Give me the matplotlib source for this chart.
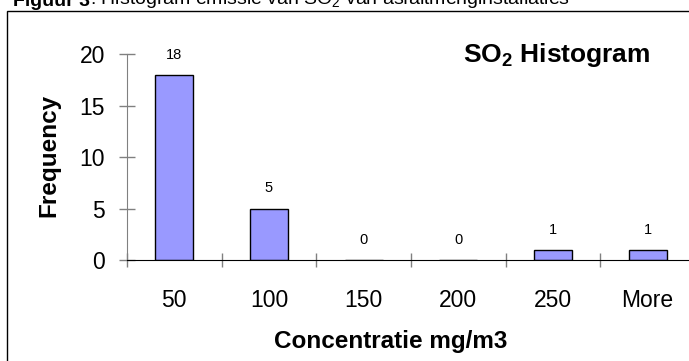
import matplotlib
matplotlib.use('Agg')
import matplotlib.pyplot as plt
from matplotlib.patches import Rectangle

# ============================================
# Data
# ============================================

bins = ['50', '100', '150', '200', '250', 'More']
frequency = [18, 5, 0, 0, 1, 1]
y_ticks = [0, 5, 10, 15, 20]

plt.rcParams['font.family'] = ['Liberation Sans', 'DejaVu Sans']
plt.rcParams['mathtext.fontset'] = 'custom'
plt.rcParams['mathtext.rm'] = 'Liberation Sans'
plt.rcParams['mathtext.bf'] = 'Liberation Sans:bold'
plt.rcParams['mathtext.default'] = 'rm'

W, H = 689, 361
fig = plt.figure(figsize=(W / 100, H / 100), dpi=100)

# plot area (pixel positions)
ax = fig.add_axes([127 / W, 1 - 260 / H, (695 - 127) / W, (260 - 54.3) / H])
ax.set_facecolor('none')

pos = range(len(bins))
ax.bar(pos, frequency, width=0.4, color='#9999FF', edgecolor='black', linewidth=1)

# value labels above the bars
for i, v in zip(pos, frequency):
    ax.annotate(str(v), (i, v), xytext=(0, 9.5), textcoords='offset points',
                ha='center', va='bottom', fontsize=10.5)

ax.set_xlim(-0.5, len(bins) - 0.5)
ax.set_ylim(0, 20)

# tick marks between the categories, labels in the middle
ax.set_xticks([p - 0.5 for p in range(len(bins) + 1)])
ax.set_xticklabels([])
ax.set_xticks(list(pos), minor=True)
ax.set_xticklabels(bins, minor=True, fontsize=16.5)
ax.tick_params(axis='x', which='major', direction='inout', length=10, color='#808080', width=1)
ax.tick_params(axis='x', which='minor', length=0, pad=21)

ax.set_yticks(y_ticks)
ax.set_yticklabels([str(t) for t in y_ticks], fontsize=16.5)
ax.tick_params(axis='y', direction='inout', length=12, color='#808080', width=1, pad=10)

ax.spines['top'].set_visible(False)
ax.spines['right'].set_visible(False)
ax.spines['left'].set_color('#808080')
ax.spines['bottom'].set_color('black')

# axis titles and chart title
fig.text(391 / W, 1 - 348 / H, 'Concentratie mg/m3', ha='center', va='baseline',
         fontsize=17.5, fontweight='bold')
fig.text(49 / W, 1 - 155 / H, 'Frequency', ha='center', va='center', rotation=90,
         fontsize=17.5, fontweight='bold')
fig.text(463 / W, 1 - 62 / H, r'$\mathbf{SO_2}$ Histogram', ha='left', va='baseline',
         fontsize=19, fontweight='bold')

# chart border (runs off the right and bottom edges)
fig.patches.append(Rectangle((7 / W, -0.1), 1.2, 1 - 11 / H + 0.1, transform=fig.transFigure,
                             fill=False, edgecolor='black', linewidth=1))

# caption, cut off at the top like in the original page
cap1 = fig.text(13 / W, 1 - 6 / H, 'Figuur 3', ha='left', va='baseline',
                fontsize=14, fontweight='bold')
ax.annotate(': Histogram emissie van SO$_2$ van asfaltmenginstallaties', xy=(1, 0),
            xycoords=cap1, ha='left', va='bottom', fontsize=14, annotation_clip=False)

plt.savefig('out.png', dpi=100)
